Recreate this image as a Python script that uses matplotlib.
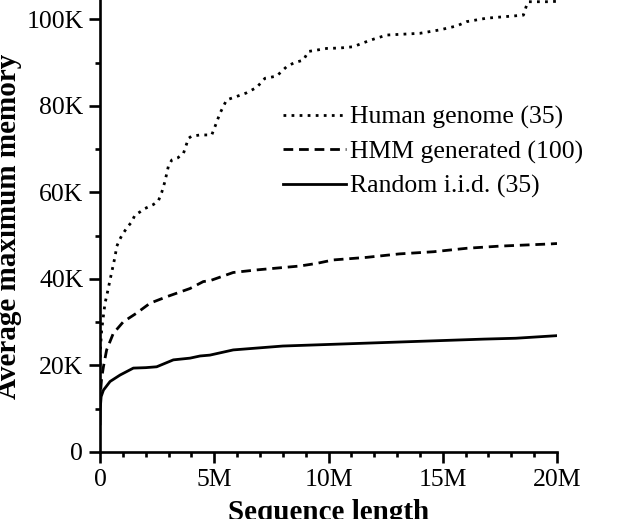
import matplotlib
matplotlib.use("Agg")
import matplotlib.pyplot as plt
from matplotlib.ticker import MultipleLocator

plt.rcParams['font.family'] = ['Liberation Serif', 'DejaVu Serif']

# Sequence length in millions, memory in thousands
human_x = [0, 0.02, 0.07, 0.15, 0.22, 0.33, 0.44, 0.55, 0.66, 0.73, 0.85, 0.95, 1.02, 1.2, 1.39,
           1.53, 1.75, 1.97, 2.33, 2.55, 2.70, 2.84, 2.99, 3.14, 3.4, 3.65, 3.87, 4.0, 4.38, 4.89,
           5.03, 5.25, 5.54, 5.98, 6.4, 6.86, 7.22, 7.73, 8.17, 8.5, 8.9, 9.12, 9.92, 10.5, 11.09,
           11.52, 12.0, 12.55, 14.0, 14.88, 15.61, 16.05, 16.92, 18.53, 18.67, 18.74, 19.69, 20.0]
human_y = [20, 24, 28, 31.5, 34.4, 37, 39.8, 42.5, 45.2, 47.5, 49, 50, 50.6, 52, 53.2,
           54.8, 55.5, 56.3, 57.2, 58, 60, 62.5, 66, 67.5, 68, 69, 72.5, 73, 73.3, 73.3,
           75.2, 78.3, 81.4, 82.2, 83, 84.3, 86.4, 86.9, 89.1, 90, 90.6, 92.6, 93.3, 93.4, 93.7,
           94.6, 95.5, 96.4, 96.8, 97.6, 98.5, 99.5, 100.3, 101, 103.3, 104.1, 104.1, 104.2]

hmm_x = [0, 0.02, 0.07, 0.15, 0.29, 0.58, 1.02, 1.6, 2.19, 2.92, 3.94, 4.52, 4.81, 5.83, 6.86,
         8.75, 9.48, 10.2, 11.67, 13.1, 14.6, 16.05, 17.5, 19.7, 20.0]
hmm_y = [11, 13.6, 17, 19.7, 23.6, 27.4, 30.1, 32.1, 34.4, 35.9, 37.8, 39.4, 39.6, 41.5, 42.1,
         43, 43.6, 44.4, 45, 45.8, 46.3, 47.1, 47.6, 48.1, 48.2]

iid_x = [0, 0.01, 0.05, 0.15, 0.44, 0.88, 1.46, 2.0, 2.48, 3.21, 3.94, 4.38, 4.81, 5.83, 8.0,
         10.2, 12.4, 14.6, 16.8, 18.2, 19.7, 20.0]
iid_y = [6.5, 10, 12.8, 14.3, 16.3, 17.8, 19.4, 19.5, 19.7, 21.3, 21.7, 22.2, 22.4, 23.6, 24.5,
         24.9, 25.3, 25.7, 26.1, 26.3, 26.8, 26.9]

labels = ["Human genome (35)", "HMM generated (100)", "Random i.i.d. (35)"]
x_ticks = [0, 5, 10, 15, 20]
x_ticklabels = ["0", "5M", "10M", "15M", "20M"]
y_ticks = [0, 20, 40, 60, 80, 100]
y_ticklabels = ["0", "20K", "40K", "60K", "80K", "100K"]

fig = plt.figure(figsize=(6.44, 5.19), dpi=100)
ax = fig.add_axes([100/644, 1 - 452/519, 457/644, 452/519])

lw = 2.0
ax.plot(human_x, human_y, color='black', lw=lw, dashes=(1.0, 1.9), label=labels[0])
ax.plot(hmm_x, hmm_y, color='black', lw=lw, dashes=(3.5, 2.1), label=labels[1])
ax.plot(iid_x, iid_y, color='black', lw=lw, label=labels[2])

ax.set_xlim(0, 20)
ax.set_ylim(0, 104.5)
ax.set_xticks(x_ticks)
ax.set_xticklabels(x_ticklabels)
ax.set_yticks(y_ticks)
ax.set_yticklabels(y_ticklabels)
ax.xaxis.set_minor_locator(MultipleLocator(1))
ax.yaxis.set_minor_locator(MultipleLocator(10))

for s in ['top', 'right']:
    ax.spines[s].set_visible(False)
for s in ['left', 'bottom']:
    ax.spines[s].set_linewidth(1.9)

ax.tick_params(which='major', direction='out', length=8, width=1.9, labelsize=18.5, pad=4)
ax.tick_params(which='minor', direction='out', length=3.5, width=1.9)

ax.set_xlabel("Sequence length", fontsize=21, fontweight='bold', labelpad=6)
ax.set_ylabel("Average maximum memory", fontsize=21, fontweight='bold', labelpad=3)

ax.legend(loc='center left', bbox_to_anchor=((283 - 100) / 457, 1 - 152 / 452),
          frameon=False, fontsize=18.5, handlelength=2.45, handletextpad=0.15,
          labelspacing=0.43, borderpad=0, borderaxespad=0)

fig.savefig("out.png", dpi=100)
